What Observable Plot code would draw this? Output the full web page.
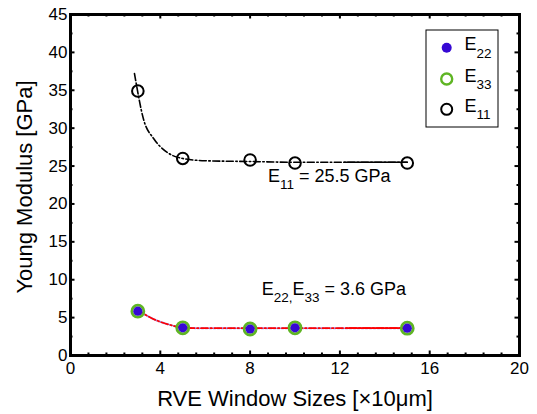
<!DOCTYPE html>
<html><head><meta charset="utf-8">
<script src="https://cdn.jsdelivr.net/npm/d3@7"></script>
<script src="https://cdn.jsdelivr.net/npm/@observablehq/plot@0.6"></script>
<style>
body{margin:0;background:#fff}
svg{font-family:"Liberation Sans",Arial,sans-serif}
</style>
</head><body><div id="chart"></div>
<script>
// ---- data ----
const windowSizes = [3, 5, 8, 10, 15];
const e11 = [34.9, 26.0, 25.8, 25.4, 25.4];
const e22 = [5.85, 3.65, 3.5, 3.65, 3.6];
const e33 = [5.85, 3.65, 3.5, 3.65, 3.6];
const e11FitX = [2.85, 3.27, 3.71, 4.31, 5, 6, 8, 10, 12.2, 15];
const e11FitY = [37.2, 31.0, 28.6, 26.8, 26.0, 25.7, 25.6, 25.5, 25.5, 25.5];
const e22FitX = [2.97, 3.86, 4.53, 5, 6, 8, 10, 12.3, 15];
const e22FitY = [6.0, 4.6, 3.96, 3.65, 3.6, 3.6, 3.6, 3.6, 3.6];
const solidTailFrom = 12.2;
const xTicks = [0, 4, 8, 12, 16, 20];
const xMinor = d3.range(0, 20.01, 0.8);
const yTicks = [0, 5, 10, 15, 20, 25, 30, 35, 40, 45];
const yMinor = d3.range(0, 45.01, 2.5);
const legendLabels = [["E", "22"], ["E", "33"], ["E", "11"]];
const xLabel = "RVE Window Sizes [×10μm]";
const yLabel = "Young Modulus [GPa]";

const pts = (xs, ys) => xs.map((x, i) => ({x, y: ys[i]}));
const e11Pts = pts(windowSizes, e11);
const e22Pts = pts(windowSizes, e22);
const e33Pts = pts(windowSizes, e33);
const e11Fit = pts(e11FitX, e11FitY);
const e22Fit = pts(e22FitX, e22FitY);

const W = 537, H = 414;
const mL = 70, mR = 18, mT = 14, mB = 59;
const pW = W - mL - mR, pH = H - mT - mB;
const isMajX = v => Math.abs(v / 4 - Math.round(v / 4)) < 1e-6;
const isMajY = v => Math.abs(v / 5 - Math.round(v / 5)) < 1e-6;

const blue = "#3608d4", green = "#5fb524", red = "#ff0000";

const chart = Plot.plot({
  width: W, height: H,
  marginLeft: mL, marginRight: mR, marginTop: mT, marginBottom: mB,
  x: {domain: [0, 20]},
  y: {domain: [0, 45]},
  marks: [
    // inward ticks on all four sides
    Plot.ruleX(xMinor, {x: d => d, insetTop: pH - 2.5, stroke: "#000", strokeWidth: 2, filter: d => !isMajX(d)}),
    Plot.ruleX(xMinor, {x: d => d, insetTop: pH - 4.5, stroke: "#000", strokeWidth: 2, filter: d => isMajX(d)}),
    Plot.ruleX(xMinor, {x: d => d, insetBottom: pH - 2.5, stroke: "#000", strokeWidth: 2, filter: d => !isMajX(d)}),
    Plot.ruleX(xMinor, {x: d => d, insetBottom: pH - 4.5, stroke: "#000", strokeWidth: 2, filter: d => isMajX(d)}),
    Plot.ruleY(yMinor, {y: d => d, insetRight: pW - 2.5, stroke: "#000", strokeWidth: 2, filter: d => !isMajY(d)}),
    Plot.ruleY(yMinor, {y: d => d, insetRight: pW - 4.5, stroke: "#000", strokeWidth: 2, filter: d => isMajY(d)}),
    Plot.ruleY(yMinor, {y: d => d, insetLeft: pW - 2.5, stroke: "#000", strokeWidth: 2, filter: d => !isMajY(d)}),
    Plot.ruleY(yMinor, {y: d => d, insetLeft: pW - 4.5, stroke: "#000", strokeWidth: 2, filter: d => isMajY(d)}),
    Plot.frame({stroke: "#000", strokeWidth: 3}),
    Plot.axisX({ticks: xTicks, tickSize: 0, tickPadding: 6, fontSize: 17, tickFormat: d => d, label: null}),
    Plot.axisY({ticks: yTicks, tickSize: 0, tickPadding: 3, fontSize: 17, tickFormat: d => d, label: null}),
    // fitted curves
    Plot.line(e11Fit, {x: "x", y: "y", curve: "monotone-x", stroke: "#000", strokeWidth: 1.6, strokeDasharray: "7,2.5,1.5,2.5"}),
    Plot.line(e11Fit, {x: "x", y: "y", curve: "monotone-x", stroke: "#000", strokeWidth: 1.6, filter: d => d.x >= solidTailFrom}),
    Plot.line(e22Fit, {x: "x", y: "y", curve: "monotone-x", stroke: "#9b9bff", strokeWidth: 2, strokeDasharray: "2,2"}),
    Plot.line(e22Fit, {x: "x", y: "y", curve: "monotone-x", stroke: red, strokeWidth: 1.8, strokeDasharray: "7,2.5,1.5,2.5"}),
    Plot.line(e22Fit, {x: "x", y: "y", curve: "monotone-x", stroke: red, strokeWidth: 1.8, filter: d => d.x >= solidTailFrom}),
    // markers
    Plot.dot(e33Pts, {x: "x", y: "y", r: 6, stroke: green, strokeWidth: 2.8, fill: "none"}),
    Plot.dot(e22Pts, {x: "x", y: "y", r: 4.6, fill: blue, stroke: "none"}),
    Plot.dot(e11Pts, {x: "x", y: "y", r: 5.8, stroke: "#000", strokeWidth: 2, fill: "none"}),
    // axis titles
    Plot.text([xLabel], {text: d => d, frameAnchor: "bottom", textAnchor: "middle", lineAnchor: "middle", dy: 43.3, fontSize: 22, fill: "#000"}),
    Plot.text([yLabel], {text: d => d, frameAnchor: "left", textAnchor: "middle", lineAnchor: "middle", dx: -46, dy: 2, rotate: -90, fontSize: 22, fill: "#000"})
  ]
});

const svg = d3.select(chart);
svg.selectAll("g[aria-label='x-axis tick label'] text, g[aria-label='y-axis tick label'] text").attr("fill", "#000");
const sx = chart.scale("x"), sy = chart.scale("y");

function subText(g, x, y, parts, size, subSize) {
  const t = g.append("text").attr("x", x).attr("y", y).attr("font-size", size)
    .attr("fill", "#000").attr("text-anchor", "start");
  let cur = 0;
  parts.forEach(([s, sub]) => {
    const target = sub ? 7.5 : 0;
    t.append("tspan").text(s).attr("font-size", sub ? subSize : size).attr("dy", target - cur);
    cur = target;
  });
  return t;
}

const ann = svg.append("g");
subText(ann, sx.apply(8.82), sy.apply(22.87), [["E", 0], ["11", 1], [" = 25.5 GPa", 0]], 18, 13.5);
subText(ann, sx.apply(8.54), sy.apply(7.92), [["E", 0], ["22", 1], [",", 1], ["E", 0], ["33", 1], [" = 3.6 GPa", 0]], 18, 13.5);

// legend
const lg = svg.append("g");
lg.append("rect").attr("x", 426).attr("y", 30).attr("width", 72).attr("height", 97)
  .attr("fill", "#fff").attr("stroke", "#000").attr("stroke-width", 1);
const rowY = [47.7, 79, 109.3];
lg.append("circle").attr("cx", 446.7).attr("cy", rowY[0]).attr("r", 5).attr("fill", blue);
lg.append("circle").attr("cx", 446.7).attr("cy", rowY[1]).attr("r", 5.5).attr("fill", "none").attr("stroke", green).attr("stroke-width", 2.4);
lg.append("circle").attr("cx", 446.7).attr("cy", rowY[2]).attr("r", 5.5).attr("fill", "none").attr("stroke", "#000").attr("stroke-width", 2);
legendLabels.forEach(([e, s], i) => {
  subText(lg, 464.5, rowY[i] + 2.5, [[e, 0], [s, 1]], 18, 13.5);
});
document.getElementById("chart").append(chart);
</script>
</body></html>
